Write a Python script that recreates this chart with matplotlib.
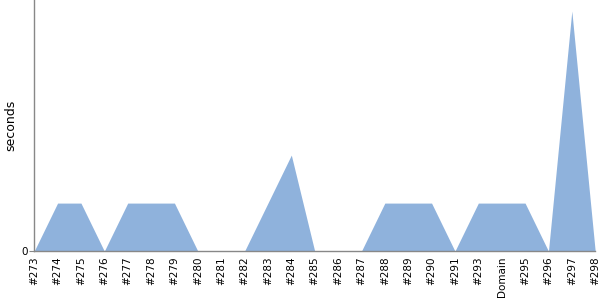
import matplotlib
matplotlib.use("Agg")
import matplotlib.pyplot as plt
import numpy as np

CATEGORIES = ["#273", "#274", "#275", "#276", "#277", "#278", "#279", "#280",
              "#281", "#282", "#283", "#284", "#285", "#286", "#287", "#288",
              "#289", "#290", "#291", "#293", "Domain", "#295", "#296",
              "#297", "#298"]
SECONDS = [0, 1, 1, 0, 1, 1, 1, 0, 0, 0, 1, 2, 0, 0, 0, 1, 1, 1, 0, 1, 1, 1,
           0, 5, 0]

FILL_COLOR = "#8fb2dc"
AXIS_COLOR = "#888888"


def main():
    fig = plt.figure(figsize=(6, 3), dpi=100)
    ax = fig.add_axes([0.057, 0.163, 0.935, 0.837])

    x = np.arange(len(CATEGORIES))
    ax.fill_between(x, 0, SECONDS, color=FILL_COLOR, linewidth=0)

    ax.set_xlim(0, len(CATEGORIES) - 1)
    ax.set_ylim(0, 5.23)
    ax.set_xticks(x)
    ax.set_xticklabels(CATEGORIES, rotation=90, fontsize=7.5)
    ax.set_yticks([0])
    ax.tick_params(axis="x", length=0, pad=4)
    ax.tick_params(axis="y", length=3.6, pad=1, labelsize=7.5, color=AXIS_COLOR)
    ax.set_ylabel("seconds", fontsize=9)
    # pin the label just right of the figure edge, like the reference
    ax.yaxis.set_label_coords(-0.031, 0.5)

    for spine in ("top", "right"):
        ax.spines[spine].set_visible(False)
    for spine in ("left", "bottom"):
        ax.spines[spine].set_color(AXIS_COLOR)
        ax.spines[spine].set_linewidth(1.0)

    fig.savefig("out.png", dpi=100, facecolor="white")
    plt.close(fig)


if __name__ == "__main__":
    main()
